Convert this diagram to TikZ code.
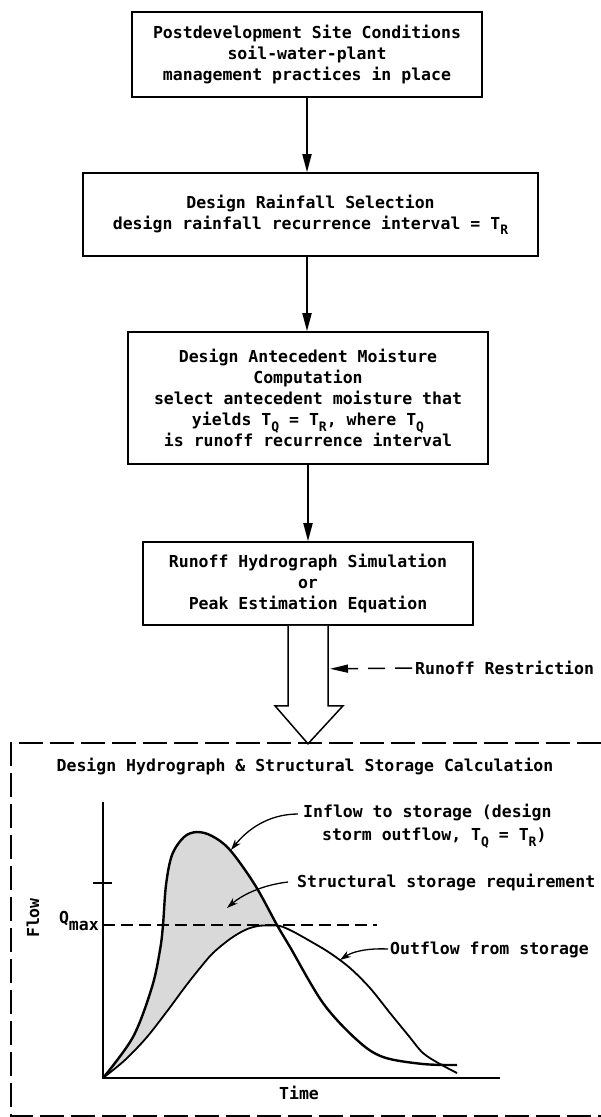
\documentclass[tikz,border=0pt]{standalone}
\usepackage{fontspec}
\setmainfont{DejaVu Sans Mono}
\usetikzlibrary{arrows.meta,calc}
\newcommand\subx[1]{\raisebox{-0.6ex}{\fontsize{13}{13}\selectfont #1}}
\begin{document}
\begin{tikzpicture}[x=1pt,y=-1pt,
  every node/.style={font=\fontsize{16.5}{21}\selectfont\bfseries, inner sep=0pt},
  flowbox/.style={draw, line width=1.6pt, align=center},
  flowarrow/.style={line width=1.8pt, -{Triangle[length=18pt,width=9pt]}},
  lbl/.style={anchor=west},
  curvarrow/.style={line width=1.3pt, -{Stealth[length=11pt,width=7pt]}},
]
\useasboundingbox (0,0) rectangle (601,1117);

% flow boxes
\node[flowbox, minimum width=350, minimum height=85] (b1) at (307,54.5)
  {Postdevelopment Site Conditions\\soil-water-plant\\management practices in place};
\node[flowbox, minimum width=455, minimum height=83] (b2) at (310.5,214.5)
  {Design Rainfall Selection\\design rainfall recurrence interval = T\subx{R}};
\node[flowbox, minimum width=360, minimum height=132] (b3) at (308,398)
  {Design Antecedent Moisture\\Computation\\select antecedent moisture that\\yields T\subx{Q} = T\subx{R}, where T\subx{Q}\\is runoff recurrence interval};
\node[flowbox, minimum width=330, minimum height=83] (b4) at (308,583.5)
  {Runoff Hydrograph Simulation\\or\\Peak Estimation Equation};

\draw[flowarrow] (b1.south) -- (b1.south |- b2.north);
\draw[flowarrow] (b2.south -| b1.south) -- (b1.south |- b3.north);
\draw[flowarrow] (b3.south) -- (b4.north);

% hollow arrow
\draw[line width=1.5pt, fill=white, line join=miter]
  ($(b4.south)+(-20,0)$) -- ++(0,80) -- ++(-13,0) -- ($(b4.south)+(0,118)$)
  -- ($(b4.south)+(35,80)$) -- ++(-15,0) -- ($(b4.south)+(20,0)$);

% runoff restriction
\node[lbl] (rr) at (415,668) {Runoff Restriction};
\coordinate (rrtip) at ($(b4.south)+(22,43)$);
\draw[line width=1.5pt, dash pattern=on 17pt off 10pt, -{Triangle[length=18pt,width=8pt]}]
  ($(rr.west)+(-3,0)$) -- (rrtip);

% dashed frame
\draw[line width=1.6pt, dash pattern=on 24pt off 7pt] (601,743) -- (11,743) -- (11,1116) -- (601,1116);

\node (ttl) at (305,766) {Design Hydrograph \& Structural Storage Calculation};

% axes
\coordinate (O) at (103,1078);
\draw[line width=1.3pt] (103,802) -- (O) -- (500,1078);
\draw[line width=1.2pt] (93,883) -- (112,883);

% shaded storage
\fill[black!15] plot[smooth,tension=0.55] coordinates {(103,1078) (133,1037) (152,987) (160,950) (163,925) (166,885) (172,855) (184,837) (197,832) (212,836) (230,850) (255,885) (277,925)}
  -- plot[smooth,tension=0.55] coordinates {(277,925.5) (270,925.5) (258,926) (245,930) (230,939) (213,953) (200,968) (185,987) (168,1010) (147,1037) (125,1060) (103,1078)} -- cycle;

\draw[line width=1.2pt, dash pattern=on 12pt off 6pt] (103,925) -- (377,925);

% inflow
\draw[line width=2.4pt] plot[smooth,tension=0.55] coordinates {(103,1078) (133,1037) (152,987) (160,950) (163,925) (166,885) (172,855) (184,837) (197,832) (212,836) (230,850) (255,885) (277,925) (290,947) (323,1003) (357,1040) (383,1057) (423,1064) (457,1065)};
% outflow
\draw[line width=1.8pt] plot[smooth,tension=0.55] coordinates {(103,1078) (125,1060) (147,1037) (168,1010) (185,987) (200,968) (213,953) (230,939) (245,930) (258,926) (270,925.5) (280,926) (292,931) (310,941) (330,953) (350,968) (370,988) (390,1013) (408,1035) (423,1053) (440,1064) (457,1073)};

% labels
\node[anchor=west, align=left, font=\fontsize{16.5}{23}\selectfont\bfseries] (inl) at (303,826)
  {Inflow to storage (design\\\hspace*{19pt}storm outflow, T\subx{Q} = T\subx{R})};
\coordinate (inTip) at (231,850);
\draw[curvarrow] ($(inl.west)+(-5,-12)$) .. controls (268,814) and (247,830) .. (inTip);

\node[lbl] (ssr) at (297,882) {Structural storage requirement};
\coordinate (ssTip) at (227,908);
\draw[curvarrow] ($(ssr.west)+(-9,0)$) .. controls (262,885) and (242,895) .. (ssTip);

\node[lbl] (ofs) at (390,950) {Outflow from storage};
\coordinate (ofTip) at (340,960);
\draw[curvarrow] ($(ofs.west)+(-2,-1)$) .. controls (366,948) and (352,952) .. (ofTip);

\node[rotate=90] (fl) at (33,918) {Flow};
\node[anchor=east] (qm) at (99,921) {Q\raisebox{-0.8ex}{max}};
\node (tm) at (299,1093) {Time};
\end{tikzpicture}
\end{document}
